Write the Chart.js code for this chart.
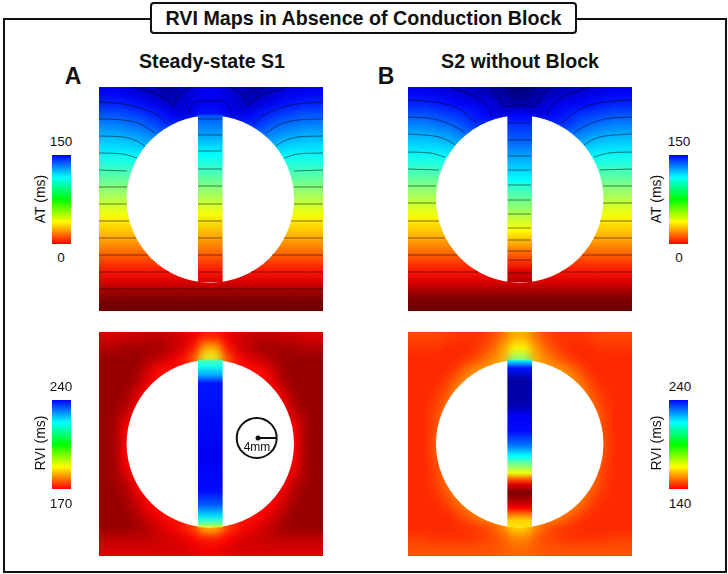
<!DOCTYPE html>
<html><head><meta charset="utf-8">
<script src="https://cdn.jsdelivr.net/npm/chart.js@4"></script>
<style>
html,body{margin:0;padding:0;background:#fff}
body{width:728px;height:574px;position:relative;overflow:hidden;font-family:"Liberation Sans",Arial,sans-serif;color:#111}
.frame{position:absolute;left:3px;top:18px;width:720px;height:551px;border:2px solid #111}
.titlebox{position:absolute;left:150px;top:2px;width:423px;height:28px;border:2px solid #111;border-radius:4px;background:#fff;text-align:center;font-weight:bold;font-size:19.7px;line-height:28px}
.t{position:absolute;white-space:nowrap;transform:translate(-50%,-50%)}
.b{font-weight:bold}
.rot{transform:translate(-50%,-50%) rotate(-90deg)}
.wrap{position:absolute;width:224px;height:224px;overflow:hidden}
.wrap canvas{position:absolute}
.heat{left:-12px;top:-12px;filter:blur(4px)}
.over{left:0;top:0}
.cb{position:absolute}
</style></head><body>
<div class="frame"></div>
<div class="titlebox">RVI Maps in Absence of Conduction Block</div>
<div class="t b" style="left:212px;top:61px;font-size:19.6px">Steady-state S1</div>
<div class="t b" style="left:520px;top:61px;font-size:19.6px">S2 without Block</div>
<div class="t b" style="left:73px;top:76px;font-size:23px">A</div>
<div class="t b" style="left:386px;top:76px;font-size:23px">B</div>
<div class="wrap" style="left:99px;top:87px"><canvas class="heat" id="h0" width="248" height="248"></canvas><canvas class="over" id="o0" width="224" height="224"></canvas></div>
<div class="wrap" style="left:408px;top:87px"><canvas class="heat" id="h1" width="248" height="248"></canvas><canvas class="over" id="o1" width="224" height="224"></canvas></div>
<div class="wrap" style="left:99px;top:332px"><canvas class="heat" id="h2" width="248" height="248"></canvas><canvas class="over" id="o2" width="224" height="224"></canvas></div>
<div class="wrap" style="left:408px;top:332px"><canvas class="heat" id="h3" width="248" height="248"></canvas><canvas class="over" id="o3" width="224" height="224"></canvas></div>
<canvas class="cb" id="c0" width="19" height="89" style="left:52px;top:155px"></canvas>
<canvas class="cb" id="c1" width="19" height="89" style="left:669px;top:155px"></canvas>
<canvas class="cb" id="c2" width="19" height="89" style="left:52px;top:400px"></canvas>
<canvas class="cb" id="c3" width="19" height="89" style="left:669px;top:400px"></canvas>
<div class="t" style="left:61px;top:141px;font-size:13.5px">150</div>
<div class="t" style="left:61px;top:257px;font-size:13.5px">0</div>
<div class="t rot" style="left:40px;top:199px;font-size:14px">AT (ms)</div>
<div class="t" style="left:679px;top:141px;font-size:13.5px">150</div>
<div class="t" style="left:679px;top:257px;font-size:13.5px">0</div>
<div class="t rot" style="left:656px;top:199px;font-size:14px">AT (ms)</div>
<div class="t" style="left:61px;top:386px;font-size:13.5px">240</div>
<div class="t" style="left:61px;top:503px;font-size:13.5px">170</div>
<div class="t rot" style="left:40px;top:443px;font-size:14px">RVI (ms)</div>
<div class="t" style="left:680px;top:386px;font-size:13.5px">240</div>
<div class="t" style="left:680px;top:503px;font-size:13.5px">140</div>
<div class="t rot" style="left:656px;top:443px;font-size:14px">RVI (ms)</div>
<div class="t" style="left:257px;top:447px;font-size:12px;z-index:5">4mm</div>
<script>
// Map values are colour levels on the jet scale (0 dark red, 11 red, 36 yellow, 64 cyan, 89 blue, 100 navy),
// read by eye from the picture on a 20 x 20 grid; 11 and 89 are the ends of each colour bar.
const atS1Grid = [
[90,90,91,92,94,96,97,94,92,90,90,92,94,97,96,94,92,91,90,90],
[86,86,87,88,90,92,94,93,91,90,90,91,93,94,92,90,88,87,86,86],
[81,81,82,83,85,87,90,92,90,87,87,90,92,90,87,85,83,82,81,81],
[76,76,77,78,80,83,85,85,85,85,85,85,85,85,83,80,78,77,76,76],
[71,71,72,73,75,77,77,77,77,77,77,77,77,77,77,75,73,72,71,71],
[67,67,67,68,70,70,70,70,70,70,70,70,70,70,70,70,68,67,67,67],
[62,62,62,63,64,64,64,64,64,64,64,64,64,64,64,64,63,62,62,62],
[57,57,57,57,58,58,58,58,58,58,58,58,58,58,58,58,57,57,57,57],
[52,52,52,52,52,52,52,52,52,52,52,52,52,52,52,52,52,52,52,52],
[47,47,47,47,47,47,47,47,47,47,47,47,47,47,47,47,47,47,47,47],
[42,42,42,42,42,42,42,42,42,42,42,42,42,42,42,42,42,42,42,42],
[37,37,37,37,37,37,37,37,37,37,37,37,37,37,37,37,37,37,37,37],
[32,32,32,32,32,32,32,32,32,32,32,32,32,32,32,32,32,32,32,32],
[28,28,28,28,28,28,28,28,28,28,28,28,28,28,28,28,28,28,28,28],
[23,23,23,23,23,23,23,23,23,23,23,23,23,23,23,23,23,23,23,23],
[18,18,18,18,18,18,18,18,18,18,18,18,18,18,18,18,18,18,18,18],
[13,13,13,13,13,13,13,13,13,13,13,13,13,13,13,13,13,13,13,13],
[8,8,8,8,8,8,8,8,8,8,8,8,8,8,8,8,8,8,8,8],
[3,3,3,3,3,3,3,3,3,3,3,3,3,3,3,3,3,3,3,3],
[0,0,0,0,0,0,0,0,0,0,0,0,0,0,0,0,0,0,0,0]];
const atS2Grid = [
[90,90,91,92,93,94,95,96,98,100,100,98,96,95,94,93,92,91,90,90],
[86,86,87,88,89,90,91,92,95,97,97,95,92,91,90,89,88,87,86,86],
[81,81,82,83,84,86,88,90,92,90,90,92,90,88,86,84,83,82,81,81],
[76,76,77,78,80,83,85,85,85,85,85,85,85,85,83,80,78,77,76,76],
[71,71,72,73,75,77,77,77,77,77,77,77,77,77,77,75,73,72,71,71],
[67,67,67,68,70,70,70,70,70,70,70,70,70,70,70,70,68,67,67,67],
[62,62,62,63,64,64,64,64,64,64,64,64,64,64,64,64,63,62,62,62],
[57,57,57,57,58,58,58,58,58,58,58,58,58,58,58,58,57,57,57,57],
[52,52,52,52,52,52,52,52,52,52,52,52,52,52,52,52,52,52,52,52],
[47,47,47,47,47,47,47,47,47,47,47,47,47,47,47,47,47,47,47,47],
[42,42,42,42,42,42,42,42,42,42,42,42,42,42,42,42,42,42,42,42],
[37,37,37,37,37,37,37,37,37,37,37,37,37,37,37,37,37,37,37,37],
[32,32,32,32,32,32,32,32,32,32,32,32,32,32,32,32,32,32,32,32],
[28,28,28,28,28,28,28,28,28,28,28,28,28,28,28,28,28,28,28,28],
[23,23,23,23,23,23,23,23,23,23,23,23,23,23,23,23,23,23,23,23],
[18,18,18,18,18,18,18,18,18,18,18,18,18,18,18,18,18,18,18,18],
[13,13,13,13,13,13,13,13,13,13,13,13,13,13,13,13,13,13,13,13],
[8,8,8,8,8,8,8,8,8,8,8,8,8,8,8,8,8,8,8,8],
[3,3,3,3,3,3,3,3,3,3,3,3,3,3,3,3,3,3,3,3],
[0,0,0,0,0,0,0,0,0,0,0,0,0,0,0,0,0,0,0,0]];
const rviS1Grid = [
[8,8,7,7,6,6,7,8,10,14,14,10,8,7,6,6,7,7,8,8],
[5,5,4,4,4,4,6,8,13,28,28,13,8,6,4,4,4,4,5,5],
[3,3,3,3,5,7,9,12,20,40,40,20,12,9,7,5,3,3,3,3],
[3,3,3,4,8,12,12,12,12,12,12,12,12,12,12,8,4,3,3,3],
[3,3,3,5,10,12,12,12,12,12,12,12,12,12,12,10,5,3,3,3],
[3,3,4,8,12,12,12,12,12,12,12,12,12,12,12,12,8,4,3,3],
[3,3,5,10,12,12,12,12,12,12,12,12,12,12,12,12,10,5,3,3],
[3,4,7,11,12,12,12,12,12,12,12,12,12,12,12,12,11,7,4,3],
[3,4,11,12,12,12,12,12,12,12,12,12,12,12,12,12,12,11,4,3],
[3,4,11,12,12,12,12,12,12,12,12,12,12,12,12,12,12,11,4,3],
[3,4,11,12,12,12,12,12,12,12,12,12,12,12,12,12,12,11,4,3],
[3,4,11,12,12,12,12,12,12,12,12,12,12,12,12,12,12,11,4,3],
[3,4,9,12,12,12,12,12,12,12,12,12,12,12,12,12,12,9,4,3],
[3,4,6,11,12,12,12,12,12,12,12,12,12,12,12,12,11,6,4,3],
[3,3,5,9,12,12,12,12,12,12,12,12,12,12,12,12,9,5,3,3],
[3,3,4,7,11,12,12,12,12,12,12,12,12,12,12,11,7,4,3,3],
[3,3,3,5,8,11,13,13,13,13,13,13,13,13,11,8,5,3,3,3],
[3,3,3,4,6,8,10,13,18,30,30,18,13,10,8,6,4,3,3,3],
[6,6,6,6,6,7,8,9,11,14,14,11,9,8,7,6,6,6,6,6],
[8,8,8,8,8,8,8,8,9,10,10,9,8,8,8,8,8,8,8,8]];
const rviS2Grid = [
[18,18,18,17,16,16,16,18,22,28,28,22,18,16,16,16,17,18,18,18],
[16,16,16,15,15,15,17,20,26,35,35,26,20,17,15,15,15,16,16,16],
[15,15,15,15,15,17,20,24,28,50,50,28,24,20,17,15,15,15,15,15],
[15,15,15,15,18,23,26,27,27,27,27,27,27,26,23,18,15,15,15,15],
[15,15,15,17,22,26,27,27,27,27,27,27,27,27,26,22,17,15,15,15],
[15,15,16,19,25,27,27,27,27,27,27,27,27,27,27,25,19,16,15,15],
[15,15,17,21,26,27,27,27,27,27,27,27,27,27,27,26,21,17,15,15],
[15,15,18,23,27,27,27,27,27,27,27,27,27,27,27,27,23,18,15,15],
[15,15,18,24,27,27,27,27,27,27,27,27,27,27,27,27,24,18,15,15],
[15,15,19,25,27,27,27,27,27,27,27,27,27,27,27,27,25,19,15,15],
[15,15,19,25,27,27,27,27,27,27,27,27,27,27,27,27,25,19,15,15],
[15,15,18,24,27,27,27,27,27,27,27,27,27,27,27,27,24,18,15,15],
[15,15,17,23,27,27,27,27,27,27,27,27,27,27,27,27,23,17,15,15],
[15,15,17,21,26,27,27,27,27,27,27,27,27,27,27,26,21,17,15,15],
[15,15,16,19,24,27,27,27,27,27,27,27,27,27,27,24,19,16,15,15],
[15,15,15,17,21,25,27,27,27,27,27,27,27,27,25,21,17,15,15,15],
[15,15,15,15,17,20,24,26,26,28,28,26,26,24,20,17,15,15,15,15],
[15,15,15,15,15,16,17,19,24,32,32,24,19,17,16,15,15,15,15,15],
[17,17,16,16,16,16,17,18,20,24,24,20,18,17,16,16,16,16,17,17],
[19,19,19,19,19,19,19,19,20,21,21,20,19,19,19,19,19,19,19,19]];

// Central isthmus: depth down the panel and colour level
const atS1StripY = [28,48,68,99,127,156,185,195];
const atS1StripLevel = [81,73,64,50,37,25,13,8];
const atS2StripY = [28,39,53,69,83,93,98,113,127,143,156,173,184,195];
const atS2StripLevel = [89,84,80,73,68,64,60,52,45,36,28,17,9,5];
const rviS1StripY = [28,34,43,51,126,159,173,183,189,193,195];
const rviS1StripLevel = [55,62,72,87,90,88,80,68,58,48,40];
const rviS2StripY = [28,31,36,48,73,83,99,113,124,133,141,148,153,161,169,176,183,189,195];
const rviS2StripLevel = [60,72,87,97,96,90,88,78,64,50,38,18,8,1,5,11,24,32,33];

// Isochrones as x,y,x,y,... in panel units
const atS1Lines = [
[0,15,24,17,41,21,58,28,69,37],[224,15,199,17,182,21,165,28,154,37],
[0,32,24,33,41,37,56,46],[224,32,199,33,182,37,167,46],
[0,49,24,50,38,54,46,59],[224,49,199,50,185,54,177,59],
[0,66,24,67,38,71],[224,66,199,67,185,71],
[0,83,28,84],[224,83,195,84],
[0,100,28,100],[195,100,224,100],[0,117,28,117],[195,117,224,117],
[0,134,30,134],[192,134,224,134],[0,151,37,151],[185,151,224,151],
[0,168,49,168],[173,168,224,168],[0,185,70,185],[152,185,224,185],[0,202,224,202],
[34,0,54,6,68,13,74,19],[74,19,81,6,93,0],[189,0,169,6,155,13,149,19],[149,19,142,6,130,0],
[90,28,91,21,96,15,103,14,119,14,126,15,131,21,132,28],
[99,32,123,32],[99,48,123,48],[99,64,123,64],[99,82,123,82],[99,99,123,99],
[99,117,123,117],[99,134,123,134],[99,151,123,151],[99,168,123,168],[99,185,123,185]];
const atS2Lines = [
[0,13,26,15,49,21,69,36],[224,13,197,15,174,21,154,36],
[0,30,26,32,46,39,57,46],[224,30,197,32,177,39,166,46],
[0,47,26,49,39,53,47,58],[224,47,197,49,184,53,176,58],
[0,65,22,66,37,70],[224,65,201,66,186,70],
[0,82,31,83],[224,82,192,83],
[0,99,28,99],[195,99,224,99],[0,116,28,116],[195,116,224,116],
[0,134,31,134],[192,134,224,134],[0,151,37,151],[186,151,224,151],
[0,168,49,168],[174,168,224,168],[0,185,70,185],[153,185,224,185],
[42,0,66,9,81,21,84,30],[181,0,157,9,142,21,139,30],
[81,0,89,9,97,19,111,18,126,19,134,9,142,0],
[100,36,123,36],[100,53,123,53],[100,69,123,69],[100,83,123,83],[100,98,123,98],[100,113,123,113],
[100,127,123,127],[100,141,123,141],[100,153,123,153],[100,164,123,164],[100,173,123,173],[100,186,123,186]];

const holeS1 = {x:111.3, y:112, r:83.7};
const holeS2 = {x:111.7, y:112, r:83.7};
const holeRvi = {x:111.3, y:111.7, r:83.7};
const holeRviS2 = {x:111.7, y:111.7, r:83.7};
const scaleMarkCentre = [157.7,106];
const scaleMarkLine = [159,106,177,106];

// Colour scales
const jetLevels = [0,11,36,50,64,89,100];
const jetColors = [[112,0,0],[255,0,0],[255,255,0],[128,255,128],[0,255,255],[0,0,255],[0,0,128]];
const barColors = ['#ff0000','#ffff00','#00ff00','#00ffff','#0000ff'];
const atBarRange = [0,150];
const rviS1BarRange = [170,240];
const rviS2BarRange = [140,240];

function jet(l){
  for(let i=1;i<jetLevels.length;i++){
    if(l<=jetLevels[i]){
      const f=(l-jetLevels[i-1])/(jetLevels[i]-jetLevels[i-1]);
      const a=jetColors[i-1],b=jetColors[i];
      return `rgb(${a.map((v,k)=>Math.round(v+(b[k]-v)*f)).join(',')})`;
    }
  }
  return 'rgb(0,0,128)';
}
const CELL=224/20;
const hidden={display:false};
const base={responsive:false,animation:false,events:[],plugins:{legend:hidden,tooltip:{enabled:false},title:hidden},layout:{padding:0,autoPadding:false}};

function heatChart(id,grid){
  const pts=[];
  const clamp=i=>Math.max(0,Math.min(19,i));
  for(let r=-2;r<22;r++)for(let c=-2;c<22;c++){
    pts.push({x:(c+.5)*CELL,y:(r+.5)*CELL,v:grid[clamp(r)][clamp(c)]});
  }
  new Chart(document.getElementById(id),{type:'scatter',data:{datasets:[{data:pts,pointStyle:'rect',
    pointRadius:(CELL/2+.7)*Math.SQRT2,pointBorderWidth:0,borderWidth:0,
    pointBackgroundColor:pts.map(p=>jet(p.v))}]},
    options:{...base,scales:{x:{type:'linear',display:false,min:-12,max:236},y:{type:'linear',display:false,reverse:true,min:-12,max:236}}}});
}
function stripGradient(c,ys,ls){
  const ch=c.chart; const s=ch.scales.y; if(!s)return '#888';
  const y0=s.getPixelForValue(ys[0]),y1=s.getPixelForValue(ys[ys.length-1]);
  if(!Number.isFinite(y0)||!Number.isFinite(y1))return '#888';
  const g=ch.ctx.createLinearGradient(0,y0,0,y1);
  ys.forEach((y,i)=>g.addColorStop((y-ys[0])/(ys[ys.length-1]-ys[0]),jet(ls[i])));
  return g;
}
function overChart(id,hole,ys,ls,lines,extra){
  const ds=[];
  (extra||[]).forEach(d=>ds.push(d));
  (lines||[]).forEach(a=>{
    const p=[];for(let i=0;i<a.length;i+=2)p.push({x:a[i],y:a[i+1]});
    ds.push({type:'line',data:p,borderColor:'rgba(0,0,0,0.5)',borderWidth:1,pointRadius:0,tension:.35,fill:false,order:1});
  });
  ds.push({type:'bar',data:[{x:hole.x,y:[ys[0],ys[ys.length-1]]}],barThickness:24,borderWidth:0,order:2,
    backgroundColor:c=>stripGradient(c,ys,ls)});
  ds.push({type:'scatter',data:[{x:hole.x,y:hole.y}],pointRadius:hole.r,pointBackgroundColor:'#fff',pointBorderWidth:0,order:3});
  new Chart(document.getElementById(id),{type:'scatter',data:{datasets:ds},
    options:{...base,scales:{x:{type:'linear',display:false,offset:false,min:0,max:224},y:{type:'linear',display:false,reverse:true,min:0,max:224}}}});
}
function colorBar(id,range){
  new Chart(document.getElementById(id),{type:'bar',data:{labels:[''],datasets:[{data:[range],barPercentage:1,categoryPercentage:1,borderWidth:0,
    backgroundColor:c=>{const ch=c.chart,a=ch.chartArea; if(!a||!Number.isFinite(a.bottom)||!Number.isFinite(a.top))return '#888';
      const g=ch.ctx.createLinearGradient(0,a.bottom,0,a.top);
      barColors.forEach((col,i)=>g.addColorStop(i/(barColors.length-1),col));return g;}}]},
    options:{...base,scales:{x:{display:false},y:{display:false,min:range[0],max:range[1]}}}});
}
heatChart('h0',atS1Grid);heatChart('h1',atS2Grid);heatChart('h2',rviS1Grid);heatChart('h3',rviS2Grid);
overChart('o0',holeS1,atS1StripY,atS1StripLevel,atS1Lines);
overChart('o1',holeS2,atS2StripY,atS2StripLevel,atS2Lines);
const mark=[
 {type:'line',data:[{x:scaleMarkLine[0],y:scaleMarkLine[1]},{x:scaleMarkLine[2],y:scaleMarkLine[3]}],borderColor:'#111',borderWidth:2,pointRadius:0,order:0},
 {type:'scatter',data:[{x:scaleMarkCentre[0],y:scaleMarkCentre[1]}],pointRadius:20,pointBackgroundColor:'rgba(0,0,0,0)',pointBorderColor:'#111',pointBorderWidth:2,order:0},
 {type:'scatter',data:[{x:scaleMarkLine[0],y:scaleMarkLine[1]}],pointRadius:2.5,pointBackgroundColor:'#111',pointBorderWidth:0,order:0}];
overChart('o2',holeRvi,rviS1StripY,rviS1StripLevel,null,mark);
overChart('o3',holeRviS2,rviS2StripY,rviS2StripLevel,null);
colorBar('c0',atBarRange);colorBar('c1',atBarRange);colorBar('c2',rviS1BarRange);colorBar('c3',rviS2BarRange);
</script>
</body></html>
